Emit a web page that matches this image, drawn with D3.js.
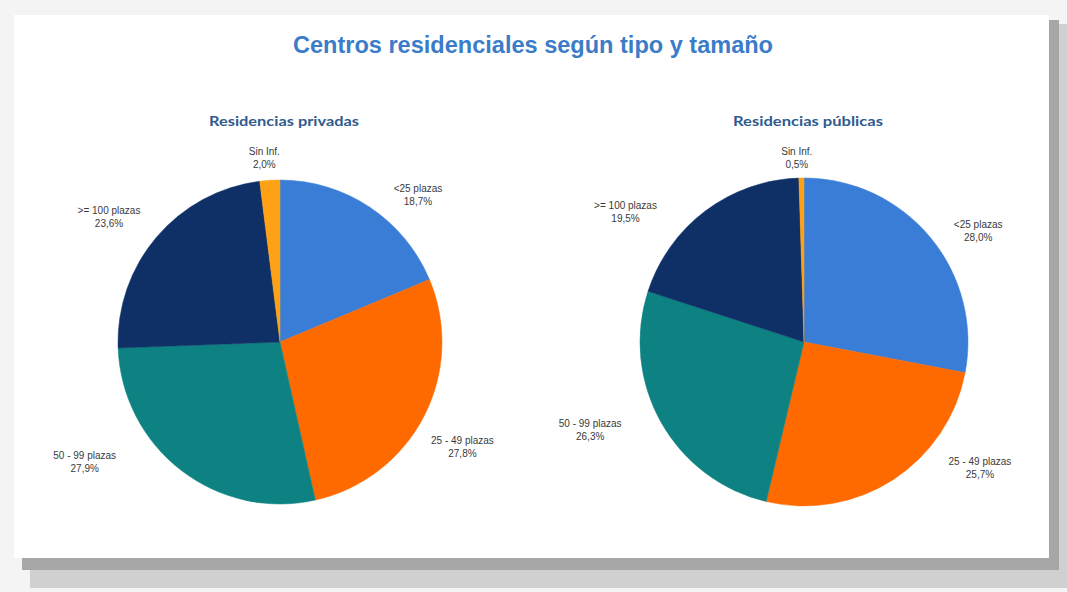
<!DOCTYPE html>
<html>
<head>
<meta charset="utf-8">
<script src="https://cdn.jsdelivr.net/npm/d3@7"></script>
<style>
  html, body { margin: 0; padding: 0; background: #f4f4f4; }
  svg { display: block; }
</style>
</head>
<body>
<div id="chart"></div>
<script>
// data
const categories = ['<25 plazas', '25 - 49 plazas', '50 - 99 plazas', '>= 100 plazas', 'Sin Inf.']
const privadas = [18.7, 27.8, 27.9, 23.6, 2.0]
const publicas = [28.0, 25.7, 26.3, 19.5, 0.5]
const chartTitle = 'Centros residenciales según tipo y tamaño'
const pieTitles = ['Residencias privadas', 'Residencias públicas']

const theme = ['#3a7dd6', '#ff6a00', '#0e8282', '#0f3066', '#ffa114']

// label nudges away from the arc centroid (excel "best fit" placement)
const nudgePriv = [[26, 21], [3, 12], [-72, -40], [-17, 6], [-3, 18]]
const nudgePub = [[17, 19], [65, -45], [-36, -12], [-56, 33], [-4, 20]]

const W = 1067, H = 592
const svg = d3.select('#chart').append('svg').attr('width', W).attr('height', H)

// card shadow + card
svg.append('rect').attr('x', 30).attr('y', 24).attr('width', 1037).attr('height', 564).attr('fill', '#d0d0d0')
svg.append('rect').attr('x', 22).attr('y', 20).attr('width', 1037).attr('height', 550).attr('fill', '#a7a7a7')
svg.append('rect').attr('x', 14).attr('y', 15).attr('width', 1035).attr('height', 543).attr('fill', '#fff')

svg.append('text')
  .attr('x', 533).attr('y', 53)
  .attr('text-anchor', 'middle')
  .attr('font-family', 'Liberation Sans, Arial, sans-serif')
  .attr('font-weight', 'bold')
  .attr('font-size', 23)
  .attr('fill', '#3b7cc9')
  .attr('textLength', 480)
  .attr('lengthAdjust', 'spacingAndGlyphs')
  .text(chartTitle)

const pie = d3.pie().sort(null).value(d => d)
const fmt = v => d3.format('.1f')(v).replace('.', ',') + '%'

function drawPie(values, { cx, cy, r, title, nudge }) {
  const g = svg.append('g').attr('transform', `translate(${cx},${cy})`)
  const arc = d3.arc().innerRadius(0).outerRadius(r)
  const labelArc = d3.arc().innerRadius(r + 40).outerRadius(r + 40)
  const arcs = pie(values)

  g.selectAll('path.slice')
    .data(arcs)
    .enter()
    .append('path')
    .attr('class', 'slice')
    .attr('d', arc)
    .attr('fill', (d, i) => theme[i])
    .attr('stroke', (d, i) => theme[i])
    .attr('stroke-width', 0.5)

  g.append('text')
    .attr('x', 4).attr('y', -216)
    .attr('text-anchor', 'middle')
    .attr('font-family', 'Lato, "Open Sans", sans-serif')
    .attr('font-weight', 'bold')
    .attr('font-size', 14)
    .attr('fill', '#2f5b8d')
    .attr('textLength', 150)
    .attr('lengthAdjust', 'spacingAndGlyphs')
    .text(title)

  const labels = g.selectAll('text.lbl')
    .data(arcs)
    .enter()
    .append('text')
    .attr('class', 'lbl')
    .attr('text-anchor', 'middle')
    .attr('font-family', 'Liberation Sans, Arial, sans-serif')
    .attr('font-size', 10)
    .attr('fill', '#3a3a3a')
    .attr('transform', (d, i) => {
      const [x, y] = labelArc.centroid(d)
      return `translate(${x + nudge[i][0]},${y + nudge[i][1]})`
    })
  labels.append('tspan').attr('x', 0).attr('y', -3).text((d, i) => categories[i])
  labels.append('tspan').attr('x', 0).attr('y', 10).text(d => fmt(d.data))
}

drawPie(privadas, { cx: 280, cy: 342, r: 162, title: pieTitles[0], nudge: nudgePriv })
drawPie(publicas, { cx: 804, cy: 342, r: 164, title: pieTitles[1], nudge: nudgePub })
</script>
</body>
</html>
